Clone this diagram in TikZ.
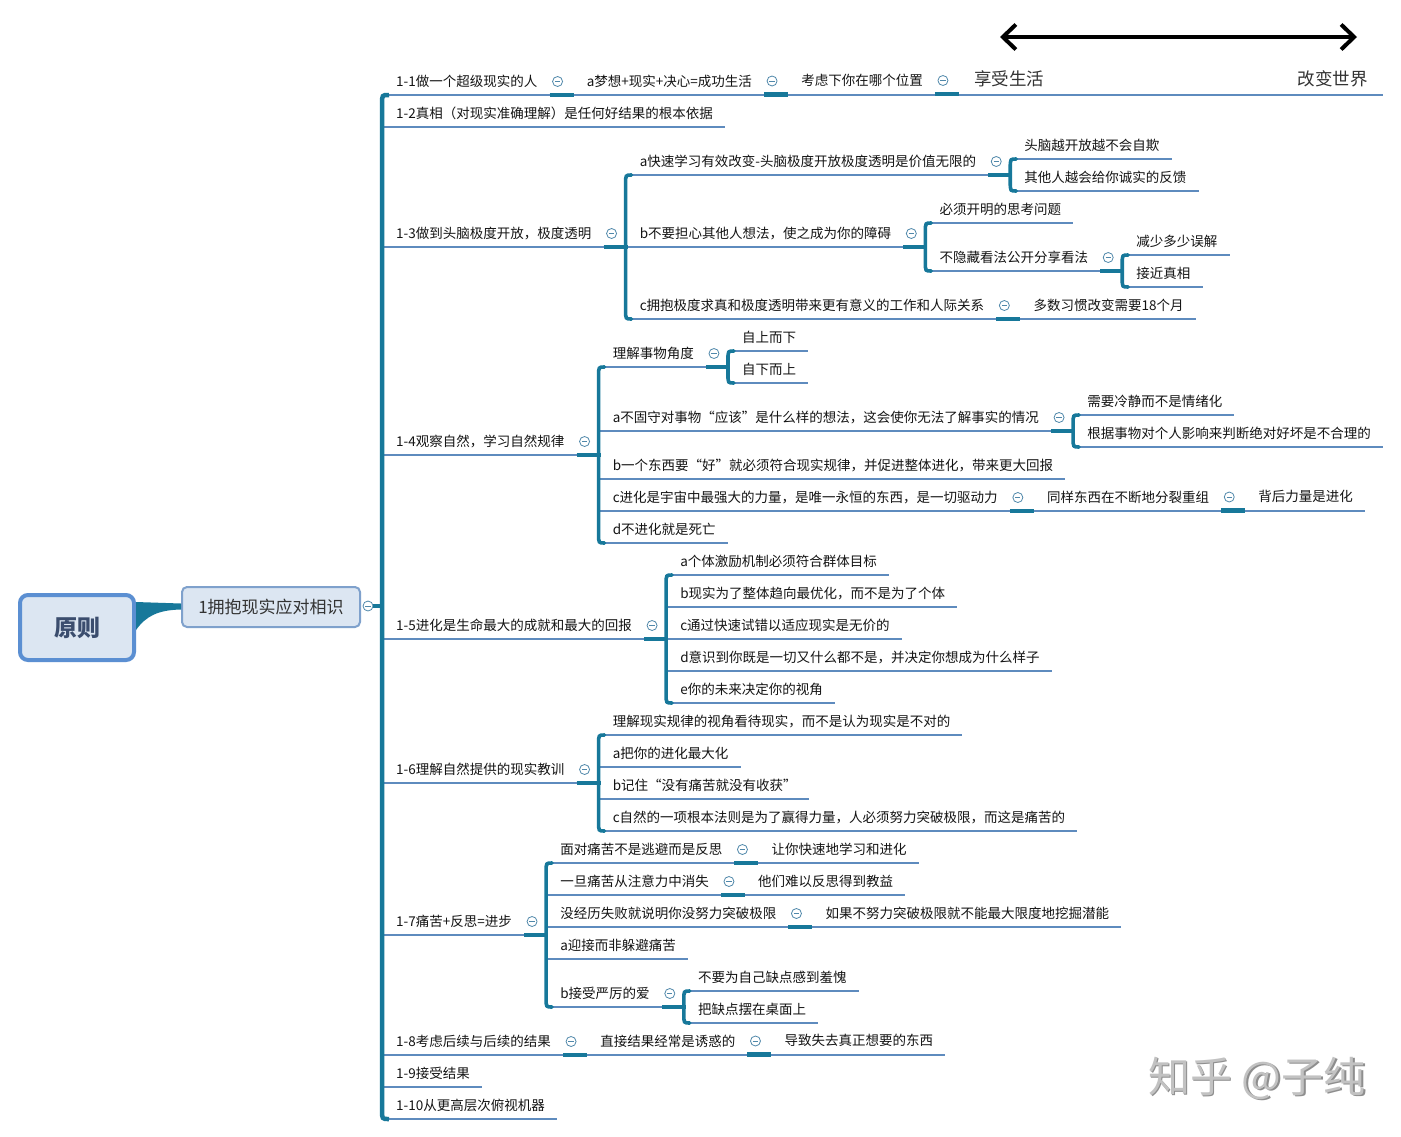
\documentclass[tikz,border=0pt]{standalone}
\usepackage{fontspec}
\setmainfont{Noto Sans CJK SC}
\usetikzlibrary{calc,arrows.meta}
\pgfdeclarelayer{bg}
\pgfdeclarelayer{paper}
\pgfsetlayers{paper,bg,main}
\definecolor{ulc}{HTML}{5E8BBE}
\definecolor{tlc}{HTML}{17789A}
\definecolor{mkc}{HTML}{5088AA}
\definecolor{txc}{HTML}{141414}
\definecolor{boxf}{HTML}{DCE6F2}
\definecolor{rootd}{HTML}{5B8FD2}
\definecolor{nonedraw}{HTML}{7FA1CC}
\definecolor{roott}{HTML}{3B4D6E}
\definecolor{wmc}{HTML}{C2C2C2}
\definecolor{wms}{HTML}{8E8E8E}
\tikzset{
  txt/.style={anchor=west, inner sep=0pt, text=txc, font=\fontsize{13.5}{16}\selectfont, text height=11.5pt, text depth=2.5pt},
  bigtxt/.style={inner sep=0pt, text=black!80, font=\fontsize{17.5}{20}\selectfont},
  uline/.style={draw=ulc, line width=2.8pt},
  tseg/.style={draw=tlc, line width=4.5pt},
  brc/.style={draw=tlc, line width=3.6pt, line cap=round},
  trunkln/.style={draw=tlc, line width=4.5pt},
  mkr/.style={circle, draw=mkc, line width=0.8pt, minimum size=10pt, inner sep=0pt, fill=white,
    path picture={\draw[mkc, line width=0.8pt] ([xshift=-2.6pt]path picture bounding box.center) -- ([xshift=2.6pt]path picture bounding box.center);}},
  rootbox/.style={draw=rootd, line width=4pt, fill=boxf, rounded corners=8pt, minimum width=114pt, minimum height=65pt, inner sep=0pt, text=roott, font=\fontsize{23}{26}\selectfont\bfseries},
  mainbox/.style={draw=nonedraw, line width=2pt, fill=boxf, rounded corners=5pt, minimum width=178pt, minimum height=40pt, inner sep=0pt, text=black!80, font=\fontsize{17}{20}\selectfont},
  dblarrow/.style={draw=black, line width=4pt, {Straight Barb[length=13pt,width=25pt]}-{Straight Barb[length=13pt,width=25pt]}},
  wmark/.style={inner sep=0pt, font=\fontsize{42}{46}\selectfont}
}
% text node: name, x, line y, text
\newcommand\tp[4]{\node[txt] (#1) at (#2,#3-13) {#4};}
% next text in a chain after a marker
\newcommand\nx[3]{\node[txt] (#1) at ($(#2.center)+(29,0)$) {#3};}
% marker after a text node
\newcommand\mk[2]{\node[mkr] (#1) at ($(#2.east)+(20,-0.5)$) {};
  \coordinate (#1x) at ($(#1.center)+(14,13.5)$);
  \draw[tseg] ($(#1.center)+(-8,13.5)$) -- ($(#1.center)+(16,13.5)$);}
% child text: name, parent brace coordinate, line y, text
\newcommand\ch[4]{\node[txt] (#1) at ($(#2 |- 0,#3-13)+(14,0)$) {#4};}
% underline from parent brace to end of a text node
\newcommand\ulA[3]{\begin{pgfonlayer}{bg}\draw[uline] (#1 |- 0,#2) -- ($(#3.east |- 0,#2)+(12,0)$);\end{pgfonlayer}}
% underline from parent brace to own brace
\newcommand\ulB[3]{\begin{pgfonlayer}{bg}\draw[uline] (#1 |- 0,#2) -- (#3 |- 0,#2);\end{pgfonlayer}}
% brace: coordinate, top y, bottom y
\newcommand\br[3]{\draw[brc] ($(#1 |- 0,#2)+(6,0)$) .. controls (#1 |- 0,#2) .. ($(#1 |- 0,#2)+(0,9)$) -- ($(#1 |- 0,#3)+(0,-9)$) .. controls (#1 |- 0,#3) .. ($(#1 |- 0,#3)+(6,0)$);}

\begin{document}
\begin{tikzpicture}[x=1pt,y=-1pt]
\begin{pgfonlayer}{paper}
\fill[white] (0,0) rectangle (1401,1136);
\end{pgfonlayer}
\useasboundingbox (0,0) rectangle (1401,1136);

% root and first topic
\node[rootbox] (root) at (77,627.5) {原则};
\node[mainbox] (n1) at (271,607) {1拥抱现实应对相识};
\fill[tlc] (root.east |- 0,602) -- (n1.west |- 0,603.5) -- (n1.west |- 0,609.5) .. controls (158,610) and (146,616) .. (root.east |- 0,630) -- cycle;
\node[mkr] (k0) at (368,606) {};
\coordinate (k0x) at (382,606);
\draw[tseg] (k0.east) -- (k0x);
\draw[trunkln] ($(k0x |- 0,95)+(7,0)$) .. controls (k0x |- 0,95) .. ($(k0x |- 0,95)+(0,9)$) -- ($(k0x |- 0,1119)+(0,-9)$) .. controls (k0x |- 0,1119) .. ($(k0x |- 0,1119)+(7,0)$);

% top arrow
\coordinate (al) at (1000,37);
\coordinate (ar) at (1357,37);
\draw[dblarrow] (al) -- (ar);

% 1-1
\tp{t1}{396}{95}{1-1做一个超级现实的人}
\mk{k11}{t1}
\nx{t1a}{k11}{a梦想+现实+决心=成功生活}
\mk{k12}{t1a}
\nx{t1b}{k12}{考虑下你在哪个位置}
\mk{k13}{t1b}
\node[bigtxt, anchor=west] (t1c) at ($(k13.center)+(31,-2)$) {享受生活};
\node[bigtxt, anchor=east] (t1d) at (1368,79) {改变世界};
\begin{pgfonlayer}{bg}\draw[uline] (k0x |- 0,95) -- (1383,95);\end{pgfonlayer}

% 1-2
\tp{t2}{396}{127}{1-2真相（对现实准确理解）是任何好结果的根本依据}
\ulA{k0x}{127}{t2}

% 1-3
\tp{t3}{396}{247}{1-3做到头脑极度开放，极度透明}
\mk{k3}{t3}
\ulB{k0x}{247}{k3x}
\br{k3x}{175}{319}
\ch{t3a}{k3x}{175}{a快速学习有效改变-头脑极度开放极度透明是价值无限的}
\mk{k3a}{t3a}
\ulB{k3x}{175}{k3ax}
\br{k3ax}{159}{191}
\ch{t3a1}{k3ax}{159}{头脑越开放越不会自欺}
\ch{t3a2}{k3ax}{191}{其他人越会给你诚实的反馈}
\ulA{k3ax}{159}{t3a1}
\ulA{k3ax}{191}{t3a2}
\ch{t3b}{k3x}{247}{b不要担心其他人想法，使之成为你的障碍}
\mk{k3b}{t3b}
\ulB{k3x}{247}{k3bx}
\br{k3bx}{223}{271}
\ch{t3b1}{k3bx}{223}{必须开明的思考问题}
\ulA{k3bx}{223}{t3b1}
\ch{t3b2}{k3bx}{271}{不隐藏看法公开分享看法}
\mk{k3c}{t3b2}
\ulB{k3bx}{271}{k3cx}
\br{k3cx}{255}{287}
\ch{t3b21}{k3cx}{255}{减少多少误解}
\ch{t3b22}{k3cx}{287}{接近真相}
\ulA{k3cx}{255}{t3b21}
\ulA{k3cx}{287}{t3b22}
\ch{t3c}{k3x}{319}{c拥抱极度求真和极度透明带来更有意义的工作和人际关系}
\mk{k3d}{t3c}
\nx{t3c1}{k3d}{多数习惯改变需要18个月}
\ulA{k3x}{319}{t3c1}

% 1-4
\tp{t4}{396}{455}{1-4观察自然，学习自然规律}
\mk{k4}{t4}
\ulB{k0x}{455}{k4x}
\br{k4x}{367}{543}
\ch{t4a}{k4x}{367}{理解事物角度}
\mk{k4a}{t4a}
\ulB{k4x}{367}{k4ax}
\br{k4ax}{351}{383}
\ch{t4a1}{k4ax}{351}{自上而下}
\ch{t4a2}{k4ax}{383}{自下而上}
\ulA{k4ax}{351}{t4a1}
\ulA{k4ax}{383}{t4a2}
\ch{t4b}{k4x}{431}{a不固守对事物“应该”是什么样的想法，这会使你无法了解事实的情况}
\mk{k4b}{t4b}
\ulB{k4x}{431}{k4bx}
\br{k4bx}{415}{447}
\ch{t4b1}{k4bx}{415}{需要冷静而不是情绪化}
\ch{t4b2}{k4bx}{447}{根据事物对个人影响来判断绝对好坏是不合理的}
\ulA{k4bx}{415}{t4b1}
\ulA{k4bx}{447}{t4b2}
\ch{t4c}{k4x}{479}{b一个东西要“好”就必须符合现实规律，并促进整体进化，带来更大回报}
\ulA{k4x}{479}{t4c}
\ch{t4d}{k4x}{511}{c进化是宇宙中最强大的力量，是唯一永恒的东西，是一切驱动力}
\mk{k4d}{t4d}
\nx{t4d2}{k4d}{同样东西在不断地分裂重组}
\mk{k4e}{t4d2}
\nx{t4d3}{k4e}{背后力量是进化}
\ulA{k4x}{511}{t4d3}
\ch{t4e}{k4x}{543}{d不进化就是死亡}
\ulA{k4x}{543}{t4e}

% 1-5
\tp{t5}{396}{639}{1-5进化是生命最大的成就和最大的回报}
\mk{k5}{t5}
\ulB{k0x}{639}{k5x}
\br{k5x}{575}{703}
\ch{t5a}{k5x}{575}{a个体激励机制必须符合群体目标}
\ch{t5b}{k5x}{607}{b现实为了整体趋向最优化，而不是为了个体}
\ch{t5c}{k5x}{639}{c通过快速试错以适应现实是无价的}
\ch{t5d}{k5x}{671}{d意识到你既是一切又什么都不是，并决定你想成为什么样子}
\ch{t5e}{k5x}{703}{e你的未来决定你的视角}
\ulA{k5x}{575}{t5a}
\ulA{k5x}{607}{t5b}
\ulA{k5x}{639}{t5c}
\ulA{k5x}{671}{t5d}
\ulA{k5x}{703}{t5e}

% 1-6
\tp{t6}{396}{783}{1-6理解自然提供的现实教训}
\mk{k6}{t6}
\ulB{k0x}{783}{k6x}
\br{k6x}{735}{831}
\ch{t6a}{k6x}{735}{理解现实规律的视角看待现实，而不是认为现实是不对的}
\ch{t6b}{k6x}{767}{a把你的进化最大化}
\ch{t6c}{k6x}{799}{b记住“没有痛苦就没有收获”}
\ch{t6d}{k6x}{831}{c自然的一项根本法则是为了赢得力量，人必须努力突破极限，而这是痛苦的}
\ulA{k6x}{735}{t6a}
\ulA{k6x}{767}{t6b}
\ulA{k6x}{799}{t6c}
\ulA{k6x}{831}{t6d}

% 1-7
\tp{t7}{396}{935}{1-7痛苦+反思=进步}
\mk{k7}{t7}
\ulB{k0x}{935}{k7x}
\br{k7x}{863}{1007}
\ch{t7a}{k7x}{863}{面对痛苦不是逃避而是反思}
\mk{k7a}{t7a}
\nx{t7a2}{k7a}{让你快速地学习和进化}
\ulA{k7x}{863}{t7a2}
\ch{t7b}{k7x}{895}{一旦痛苦从注意力中消失}
\mk{k7b}{t7b}
\nx{t7b2}{k7b}{他们难以反思得到教益}
\ulA{k7x}{895}{t7b2}
\ch{t7c}{k7x}{927}{没经历失败就说明你没努力突破极限}
\mk{k7c}{t7c}
\nx{t7c2}{k7c}{如果不努力突破极限就不能最大限度地挖掘潜能}
\ulA{k7x}{927}{t7c2}
\ch{t7d}{k7x}{959}{a迎接而非躲避痛苦}
\ulA{k7x}{959}{t7d}
\ch{t7e}{k7x}{1007}{b接受严厉的爱}
\mk{k7e}{t7e}
\ulB{k7x}{1007}{k7ex}
\br{k7ex}{991}{1023}
\ch{t7e1}{k7ex}{991}{不要为自己缺点感到羞愧}
\ch{t7e2}{k7ex}{1023}{把缺点摆在桌面上}
\ulA{k7ex}{991}{t7e1}
\ulA{k7ex}{1023}{t7e2}

% 1-8 .. 1-10
\tp{t8}{396}{1055}{1-8考虑后续与后续的结果}
\mk{k8}{t8}
\nx{t8a}{k8}{直接结果经常是诱惑的}
\mk{k8a}{t8a}
\nx{t8b}{k8a}{导致失去真正想要的东西}
\ulA{k0x}{1055}{t8b}
\tp{t9}{396}{1087}{1-9接受结果}
\ulA{k0x}{1087}{t9}
\tp{t10}{396}{1119}{1-10从更高层次俯视机器}
\ulA{k0x}{1119}{t10}

% watermark
\node[wmark, text=wms] (wmsh) at (1258.5,1079.5) {知乎 @子纯};
\node[wmark, text=wmc] (wm) at (1257,1078) {知乎 @子纯};
\end{tikzpicture}
\end{document}
